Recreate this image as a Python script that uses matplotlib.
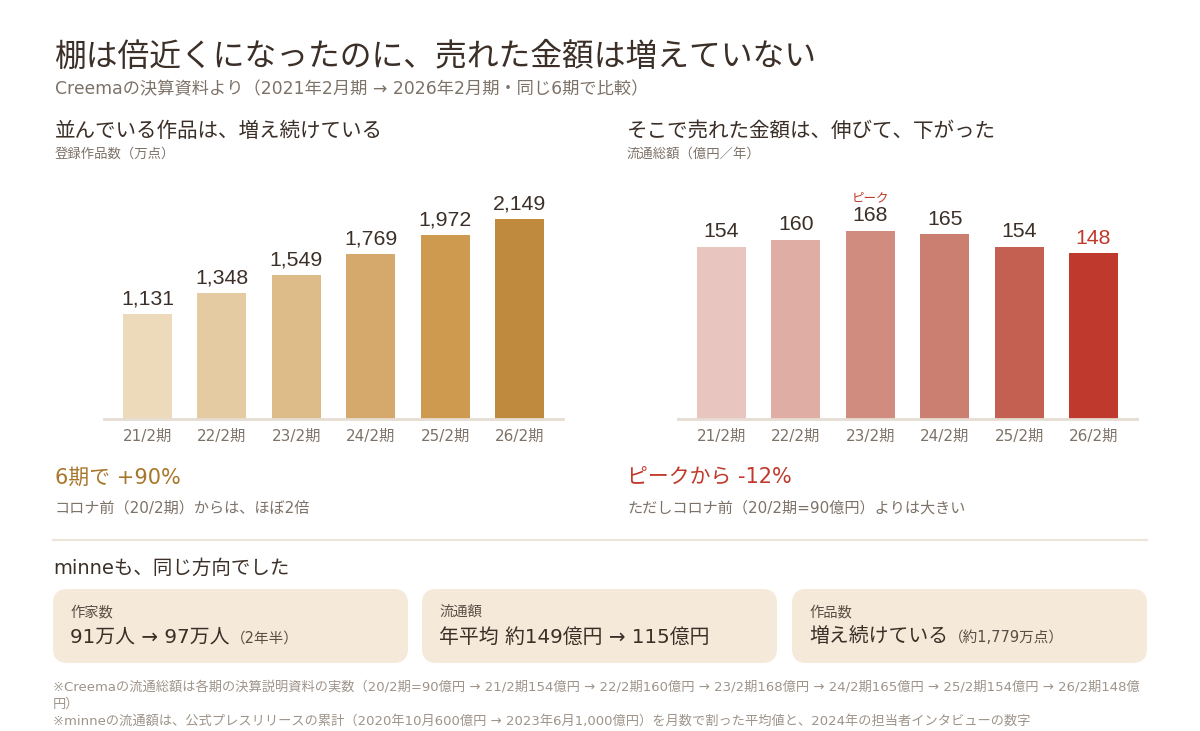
import matplotlib
matplotlib.use('Agg')
import matplotlib.pyplot as plt
from matplotlib.patches import FancyBboxPatch
from matplotlib.lines import Line2D

# wide Latin/digits first, Japanese falls back to Noto CJK
plt.rcParams['font.family'] = ['DejaVu Sans', 'Noto Sans CJK JP']
NUMFONT = ['Liberation Sans', 'Noto Sans CJK JP']

# data
periods = ['21/2期', '22/2期', '23/2期', '24/2期', '25/2期', '26/2期']
items = [1131, 1348, 1549, 1769, 1972, 2149]       # 登録作品数（万点）
gmv = [154, 160, 168, 165, 154, 148]                # 流通総額（億円／年）
items_colors = ['#ECDABA', '#E5CBA1', '#DDBC8A', '#D5A96C', '#CD9A50', '#C08A3E']
gmv_colors = ['#E8C5BE', '#DFADA4', '#D08D7F', '#CB7F70', '#C46051', '#BF3A2C']

box_heads = ['作家数', '流通額', '作品数']
box_main = ['91万人 → 97万人', '年平均 約149億円 → 115億円', '増え続けている']
box_sub = ['（2年半）', '', '（約1,779万点）']

notes = [
    '※Creemaの流通総額は各期の決算説明資料の実数（20/2期=90億円 → 21/2期154億円 → 22/2期160億円 → 23/2期168億円 → 24/2期165億円 → 25/2期154億円 → 26/2期148億',
    '円）',
    '※minneの流通額は、公式プレスリリースの累計（2020年10月600億円 → 2023年6月1,000億円）を月数で割った平均値と、2024年の担当者インタビューの数字',
]

W, H = 1200, 731
DARK = '#3B2F27'
GREY = '#7D7268'
LIGHT = '#9E948A'
GOLD = '#A8762A'
RED = '#C0392B'

fig = plt.figure(figsize=(12, 7.31), dpi=100)
fig.patch.set_facecolor('white')


def fx(x):
    return x / W


def fy(y):
    return 1 - y / H


def txt(x, y, s, size, color, **kw):
    return fig.text(fx(x), fy(y), s, fontsize=size, color=color, va='center', ha='left', **kw)


# header
txt(55, 57, '棚は倍近くになったのに、売れた金額は増えていない', 22.9, DARK)
txt(55, 89, 'Creemaの決算資料より（2021年2月期 → 2026年2月期・同じ6期で比較）', 12.4, GREY)

txt(55, 131, '並んでいる作品は、増え続けている', 14.8, DARK)
txt(55, 154, '登録作品数（万点）', 9.6, GREY)
txt(627, 131, 'そこで売れた金額は、伸びて、下がった', 14.8, DARK)
txt(627, 154, '流通総額（億円／年）', 9.6, GREY)


def bar_panel(x0, x1, values, colors, top, highlight=None):
    ax = fig.add_axes([fx(x0), fy(419), fx(x1 - x0), (419 - 180) / H])
    xs = range(len(values))
    ax.bar(xs, values, width=0.66, color=colors, zorder=2)
    ax.set_xlim(-0.585, len(values) - 1 + 0.585)
    ax.set_ylim(0, top)
    for s in ['top', 'right', 'left']:
        ax.spines[s].set_visible(False)
    ax.spines['bottom'].set_color('#E6DDD3')
    ax.spines['bottom'].set_linewidth(2)
    ax.set_yticks([])
    ax.set_xticks(list(xs))
    ax.set_xticklabels(periods, fontsize=11, color=GREY)
    ax.tick_params(axis='x', length=0, pad=7)
    for i, v in enumerate(values):
        c = RED if i == highlight else DARK
        ax.annotate(f'{v:,}', (i, v), xytext=(0, 4), textcoords='offset points',
                    ha='center', va='bottom', fontsize=15.3, color=c, family=NUMFONT)
    return ax


bar_panel(104, 563, items, items_colors, 2567)
ax2 = bar_panel(678, 1137, gmv, gmv_colors, 213.6, highlight=5)
peak = gmv.index(max(gmv))
ax2.annotate('ピーク', (peak, max(gmv)), xytext=(0, 19.5), textcoords='offset points',
             ha='center', va='bottom', fontsize=9, color=RED)

# takeaways
txt(55, 478, '6期で +90%', 15, GOLD)
txt(55, 508, 'コロナ前（20/2期）からは、ほぼ2倍', 10.9, GREY)
txt(627, 478, 'ピークから -12%', 15, RED)
txt(627, 508, 'ただしコロナ前（20/2期=90億円）よりは大きい', 10.9, GREY)

fig.add_artist(Line2D([fx(53), fx(1147)], [fy(540), fy(540)], color='#EDE4DA', lw=1.5))

txt(53, 568, 'minneも、同じ方向でした', 14, DARK)

box_x = [53, 422, 792]
box_w = 355
fig.canvas.draw()
renderer = fig.canvas.get_renderer()
for bx, head, main, sub in zip(box_x, box_heads, box_main, box_sub):
    p = FancyBboxPatch((fx(bx), fy(663)), fx(box_w), (663 - 589) / H,
                       boxstyle='round,pad=0,rounding_size=0.012',
                       transform=fig.transFigure, facecolor='#F5E9DA',
                       edgecolor='none', mutation_aspect=W / H)
    fig.add_artist(p)
    txt(bx + 17, 612, head, 10.3, '#5A4E45')
    t = txt(bx + 17, 637, main, 14.3, DARK)
    if sub:
        bb = t.get_window_extent(renderer)
        fig.text(bb.x1 / fig.dpi / fig.get_figwidth() + 0.001, fy(638), sub,
                 fontsize=10.5, color='#5A4E45', va='center', ha='left')

for y, s in zip([688, 704, 721], notes):
    txt(53, y, s, 9.5, LIGHT)

fig.savefig('out.png', dpi=100)
